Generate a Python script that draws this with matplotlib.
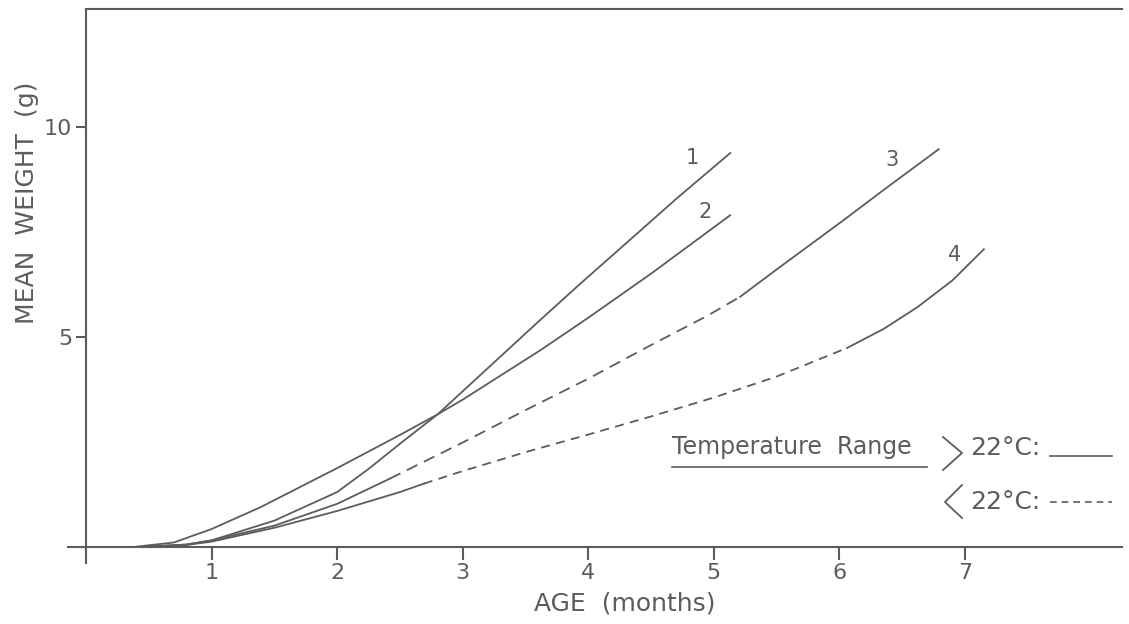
import numpy as np
import matplotlib
matplotlib.use('Agg')
import matplotlib.pyplot as plt
from matplotlib.lines import Line2D

# ========== data ==========
# curve 1 (all > 22°C)
c1_age = [0.45, 0.8, 1.0, 1.5, 2.0, 2.25, 2.5, 2.8, 3.0, 3.32, 3.6, 3.94, 4.3, 4.7, 5.13]
c1_wt = [0.0, 0.05, 0.15, 0.62, 1.3, 1.85, 2.45, 3.15, 3.7, 4.58, 5.35, 6.27, 7.22, 8.28, 9.37]

# curve 2 (all > 22°C)
c2_age = [0.4, 0.7, 1.0, 1.39, 2.0, 2.5, 2.8, 3.0, 3.62, 4.0, 4.5, 5.13]
c2_wt = [0.0, 0.1, 0.42, 0.94, 1.87, 2.66, 3.15, 3.5, 4.68, 5.45, 6.5, 7.89]

# curve 3 (< 22°C between the two breaks)
c3_age = [0.5, 0.8, 1.0, 1.5, 2.0, 2.42, 3.0, 3.5, 4.0, 4.5, 4.95, 5.21, 5.5, 6.0, 6.4, 6.79]
c3_wt = [0.0, 0.05, 0.15, 0.5, 1.02, 1.62, 2.48, 3.25, 4.0, 4.8, 5.5, 5.95, 6.6, 7.7, 8.6, 9.46]
c3_cold = (2.42, 5.21)

# curve 4 (< 22°C between the two breaks)
c4_age = [0.5, 0.8, 1.0, 1.5, 2.0, 2.5, 2.69, 3.0, 3.5, 4.0, 4.5, 5.0, 5.5, 6.06, 6.35, 6.62, 6.9, 7.15]
c4_wt = [0.0, 0.04, 0.12, 0.45, 0.85, 1.3, 1.5, 1.8, 2.25, 2.67, 3.1, 3.55, 4.05, 4.73, 5.18, 5.7, 6.34, 7.08]
c4_cold = (2.69, 6.06)

curve_names = ['1', '2', '3', '4']
name_age = [4.83, 4.93, 6.42, 6.92]
name_wt = [9.25, 7.97, 9.21, 6.94]

x_ticks = [1, 2, 3, 4, 5, 6, 7]
y_ticks = [5, 10]

INK = '#5c5c5c'
FONT = dict(family='DejaVu Sans', color=INK)


def plot_split(ax, age, wt, cold, dash):
    """solid outside the cold range, dashed inside it"""
    age = np.array(age)
    wt = np.array(wt)
    lo, hi = cold
    m1 = age <= lo
    m2 = (age >= lo) & (age <= hi)
    m3 = age >= hi
    ax.plot(age[m1], wt[m1], color=INK, lw=1.3)
    ax.plot(age[m2], wt[m2], color=INK, lw=1.3, dashes=dash)
    ax.plot(age[m3], wt[m3], color=INK, lw=1.3)


fig = plt.figure(figsize=(11.29, 6.24), dpi=100)
ax = fig.add_axes([0.0606, 0.097, 0.9332, 0.8886])

ax.plot(c1_age, c1_wt, color=INK, lw=1.3)
ax.plot(c2_age, c2_wt, color=INK, lw=1.3)
plot_split(ax, c3_age, c3_wt, c3_cold, (6.5, 4))
plot_split(ax, c4_age, c4_wt, c4_cold, (5, 3.5))

for n, a, w in zip(curve_names, name_age, name_wt):
    ax.text(a, w, n, ha='center', va='center', fontsize=15, **FONT)

ax.set_xlim(-0.14, 8.25)
ax.set_ylim(-0.4, 12.8)

ax.spines['right'].set_visible(False)
ax.spines['left'].set_position(('data', 0))
ax.spines['bottom'].set_position(('data', 0))
ax.spines['top'].set_bounds(0, 8.25)
for s in ['left', 'bottom', 'top']:
    ax.spines[s].set_color(INK)
    ax.spines[s].set_linewidth(1.5)

ax.set_xticks(x_ticks)
ax.set_yticks(y_ticks)
ax.set_xticklabels([str(t) for t in x_ticks], fontsize=16, **FONT)
ax.set_yticklabels([str(t) for t in y_ticks], fontsize=16, **FONT)
ax.tick_params(axis='x', direction='out', length=9, width=1.5, color=INK, pad=3)
ax.tick_params(axis='y', direction='out', length=7, width=1.5, color=INK, pad=3)

W, H = 1129.0, 624.0


def fx(px):
    return px / W


def fy(py):
    return 1 - py / H


fig.text(fx(625), fy(603), 'AGE  (months)', ha='center', va='center', fontsize=18, **FONT)
fig.text(fx(27), fy(203), 'MEAN  WEIGHT  (g)', ha='center', va='center',
         rotation=90, fontsize=18, **FONT)

# hand-drawn legend
fig.text(fx(672), fy(454), 'Temperature  Range', ha='left', va='baseline', fontsize=17, **FONT)
fig.add_artist(Line2D([fx(672), fx(927)], [fy(467), fy(467)], color=INK, lw=1.2))
fig.add_artist(Line2D([fx(943), fx(962), fx(943)], [fy(437), fy(453), fy(470)], color=INK, lw=1.3))
fig.add_artist(Line2D([fx(962), fx(945), fx(962)], [fy(485), fy(502), fy(518)], color=INK, lw=1.3))
fig.text(fx(970), fy(455), '22°C:', ha='left', va='baseline', fontsize=18, **FONT)
fig.text(fx(970), fy(509), '22°C:', ha='left', va='baseline', fontsize=18, **FONT)
fig.add_artist(Line2D([fx(1050), fx(1112)], [fy(456), fy(456)], color=INK, lw=1.2))
fig.add_artist(Line2D([fx(1050), fx(1112)], [fy(502), fy(502)], color=INK, lw=1.2,
                      dashes=(4, 3)))

fig.savefig('out.png', dpi=100)
